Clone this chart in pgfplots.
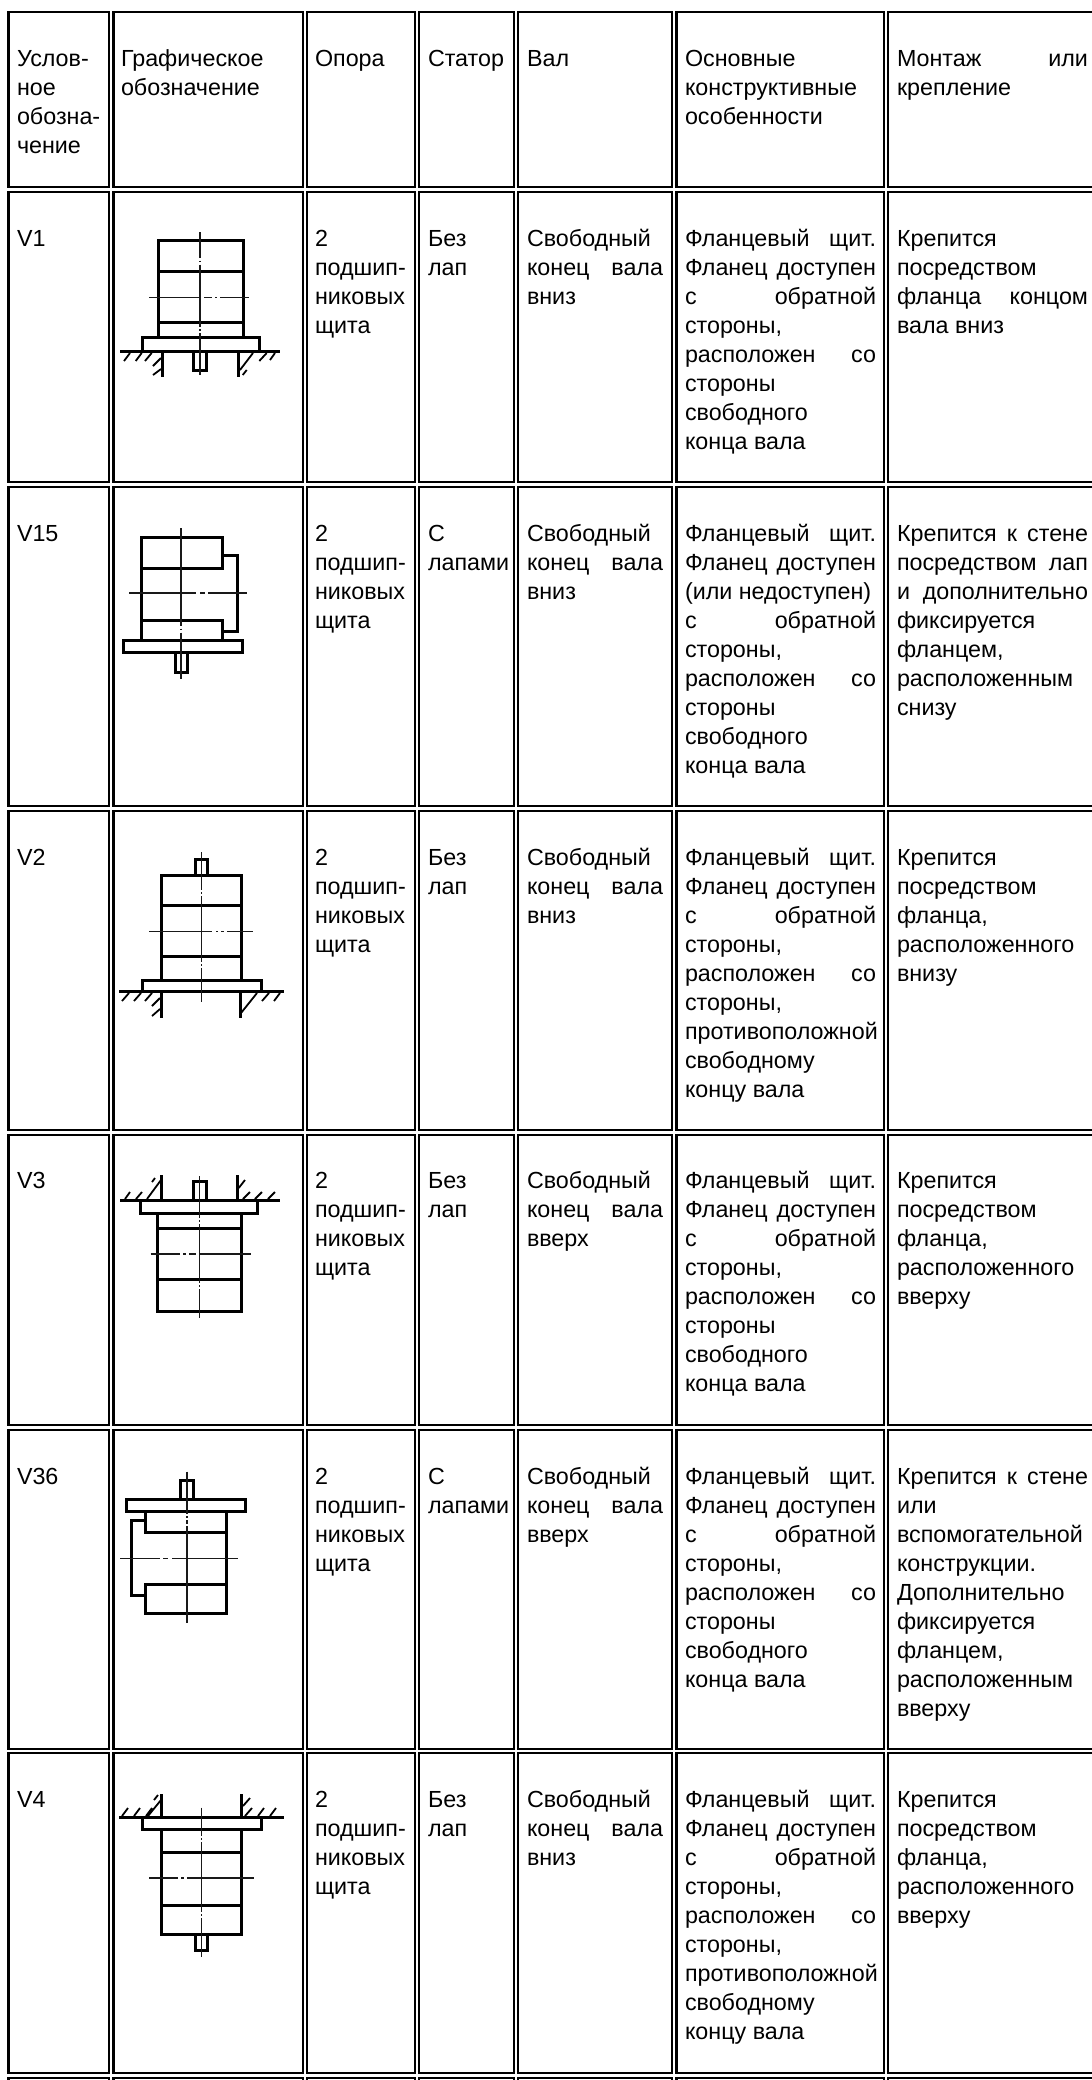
\documentclass[border=0pt]{standalone}
\usepackage{pgfplots}
\pgfplotsset{compat=1.18}
\usepackage{fontspec}
\setmainfont{Liberation Sans}
% one table row: the seven cells between the heights #1 and #2
\newcommand\rowcells[2]{\addplot[Grid] coordinates {
 (8.5,#1)(109,#1)(109,#2)(8.5,#2)(8.5,#1) (nan,nan)
 (113.5,#1)(303,#1)(303,#2)(113.5,#2)(113.5,#1) (nan,nan)
 (307,#1)(415,#1)(415,#2)(307,#2)(307,#1) (nan,nan)
 (419,#1)(514,#1)(514,#2)(419,#2)(419,#1) (nan,nan)
 (518,#1)(672,#1)(672,#2)(518,#2)(518,#1) (nan,nan)
 (676.5,#1)(884,#1)(884,#2)(676.5,#2)(676.5,#1) (nan,nan)
 (888,#1)(1110,#1)(1110,#2)(888,#2)(888,#1)};}
\newcommand\T[4]{\node[anchor=base west,inner sep=0pt,outer sep=0pt] at (axis cs:#1,{#2+29*#3}) {\strut #4};}
\newcommand\JE[2]{\makebox[136pt][s]{#1\hfill #2}}
\newcommand\JF[2]{\makebox[191pt][s]{#1\hfill #2}}
\newcommand\ColThree[1]{\T{315}{#1}{0}{2}\T{315}{#1}{1}{подшип-}\T{315}{#1}{2}{никовых}\T{315}{#1}{3}{щита}}
\newcommand\NoFeet[1]{\T{428}{#1}{0}{Без}\T{428}{#1}{1}{лап}}
\newcommand\Feet[1]{\T{428}{#1}{0}{С}\T{428}{#1}{1}{лапами}}
\newcommand\Shaft[2]{\T{527}{#1}{0}{Свободный}\T{527}{#1}{1}{\JE{конец}{вала}}\T{527}{#1}{2}{#2}}
\newcommand\Near[1]{\T{685}{#1}{0}{\JF{Фланцевый}{щит.}}\T{685}{#1}{1}{\JF{Фланец}{доступен}}\T{685}{#1}{2}{\JF{с}{обратной}}\T{685}{#1}{3}{стороны,}\T{685}{#1}{4}{\JF{расположен}{со}}\T{685}{#1}{5}{стороны}\T{685}{#1}{6}{свободного}\T{685}{#1}{7}{конца вала}}
\newcommand\Far[1]{\T{685}{#1}{0}{\JF{Фланцевый}{щит.}}\T{685}{#1}{1}{\JF{Фланец}{доступен}}\T{685}{#1}{2}{\JF{с}{обратной}}\T{685}{#1}{3}{стороны,}\T{685}{#1}{4}{\JF{расположен}{со}}\T{685}{#1}{5}{стороны,}\T{685}{#1}{6}{противоположной}\T{685}{#1}{7}{свободному}\T{685}{#1}{8}{концу вала}}
\newcommand\Mount[2]{\T{897}{#1}{0}{Крепится}\T{897}{#1}{1}{посредством}\T{897}{#1}{2}{фланца,}\T{897}{#1}{3}{расположенного}\T{897}{#1}{4}{#2}}
\begin{document}
\fontsize{23.3}{29}\selectfont
\begin{tikzpicture}
\pgfplotsset{
 Grid/.style={black,line width=2.3pt,line cap=rect,no markers},
 Thick/.style={black,line width=3pt,line cap=rect,no markers},
 Thin/.style={black!90,line width=1.4pt,no markers},
 Hatch/.style={black,line width=1.8pt,no markers}}
\begin{axis}[scale only axis,width=1092pt,height=2080pt,xmin=0,xmax=1092,ymin=0,ymax=2080,
 y dir=reverse,hide axis,unbounded coords=jump]
\path (axis cs:0,0) rectangle (axis cs:1092,2080);
\rowcells{12}{187}
\rowcells{192}{482}
\rowcells{487}{806}
\rowcells{811}{1130}
\rowcells{1135}{1425}
\rowcells{1430}{1749}
\rowcells{1753}{2073}
\rowcells{2078}{2100}
% ---------- V1
\addplot[Thick] coordinates {(158.3,337.7)(158.3,240)(243.3,240)(243.3,337.7)(nan,nan)(158.3,271.7)(243.3,271.7)(nan,nan)(158.3,322.7)(243.3,322.7)(nan,nan)
 (142.3,351.7)(142.3,337.7)(259.3,337.7)(259.3,351.7)(nan,nan)(121.7,351.7)(278.3,351.7)(nan,nan)
 (193.7,351.7)(193.7,370)(206.3,370)(206.3,351.7)(nan,nan)(162.3,351.7)(162.3,375)(nan,nan)(238.3,351.7)(238.3,375)};
\addplot[Thin] coordinates {(200,232)(200,258)(nan,nan)(200,260.5)(200,262)(nan,nan)(200,264.5)(200,327)(nan,nan)(200,329)(200,331)(nan,nan)(200,333)(200,375)(nan,nan)
 (149,297.3)(200,297.3)(nan,nan)(204,297.3)(212,297.3)(nan,nan)(215,297.3)(217,297.3)(nan,nan)(220,297.3)(249,297.3)};
\addplot[Hatch] coordinates {(130,353)(124,361)(nan,nan)(141.7,353)(135.7,361)(nan,nan)(151.7,353)(145,361)(nan,nan)(161,358)(153,366)(nan,nan)(161,369)(153,375)(nan,nan)
 (253,353)(240,370)(nan,nan)(266.7,353)(259.3,361)(nan,nan)(275,353)(270,360)(nan,nan)(246.7,370)(242.7,375)};
% ---------- V15
\addplot[Thick] coordinates {(222,640)(222,631)(237,631)(237,555)(222,555)(222,537)(141,537)(141,640)(nan,nan)(141,568)(222,568)(222,555)(nan,nan)(141,620)(222,620)(222,631)(nan,nan)
 (123,640)(242,640)(242,652)(123,652)(123,640)(nan,nan)(175,652)(175,672)(187,672)(187,652)};
\addplot[Thin] coordinates {(181,528)(181,626)(nan,nan)(181,628.5)(181,630)(nan,nan)(181,632.5)(181,679)(nan,nan)
 (129,593)(196,593)(nan,nan)(200,593)(205,593)(nan,nan)(208,593)(247,593)};
% ---------- V2
\addplot[Thick] coordinates {(161.7,980.7)(161.7,875)(241.3,875)(241.3,980.7)(nan,nan)(161.7,905)(241.3,905)(nan,nan)(161.7,956.7)(241.3,956.7)(nan,nan)
 (142.3,991.7)(142.3,980.7)(261,980.7)(261,991.7)(nan,nan)(120,991.7)(282,991.7)(nan,nan)
 (195.3,875)(195.3,859.3)(207.7,859.3)(207.7,875)(nan,nan)(161,991.7)(161,1016)(nan,nan)(240.3,991.7)(240.3,1016)};
\addplot[Thin] coordinates {(201.3,852)(201.3,890)(nan,nan)(201.3,892)(201.3,894)(nan,nan)(201.3,896)(201.3,962)(nan,nan)(201.3,964)(201.3,966)(nan,nan)(201.3,968)(201.3,1002)(nan,nan)
 (149,931.3)(212,931.3)(nan,nan)(216,931.3)(218,931.3)(nan,nan)(221,931.3)(224,931.3)(nan,nan)(227,931.3)(253,931.3)};
\addplot[Hatch] coordinates {(129,993)(122,1001)(nan,nan)(141,993)(134,1001)(nan,nan)(152,993)(145,1001)(nan,nan)(160,998)(152,1006)(nan,nan)(160,1009)(152,1016)(nan,nan)
 (257,993)(241,1013)(nan,nan)(269,993)(262,1001)(nan,nan)(280,993)(274,1001)};
% ---------- V3
\addplot[Thick] coordinates {(157.3,1213.3)(157.3,1311)(241.3,1311)(241.3,1213.3)(nan,nan)(157.3,1228.3)(241.3,1228.3)(nan,nan)(157.3,1279)(241.3,1279)(nan,nan)
 (140.7,1200)(140.7,1213.3)(257.7,1213.3)(257.7,1200)(nan,nan)(121.7,1200)(278,1200)(nan,nan)
 (193.7,1200)(193.7,1181.7)(206.3,1181.7)(206.3,1200)(nan,nan)(161.7,1200)(161.7,1176.7)(nan,nan)(237.7,1200)(237.7,1176.7)};
\addplot[Thin] coordinates {(199.7,1176)(199.7,1218)(nan,nan)(199.7,1220)(199.7,1222)(nan,nan)(199.7,1224)(199.7,1283)(nan,nan)(199.7,1285)(199.7,1287)(nan,nan)(199.7,1289)(199.7,1318)(nan,nan)
 (150.7,1254)(180,1254)(nan,nan)(183,1254)(186,1254)(nan,nan)(189,1254)(196,1254)(nan,nan)(200,1254)(250.7,1254)};
\addplot[Hatch] coordinates {(130,1192)(125,1199)(nan,nan)(142,1192)(136,1199)(nan,nan)(161,1180)(147,1199)(nan,nan)(155,1178)(152,1182)(nan,nan)
 (245,1180)(238.7,1188)(nan,nan)(250,1192)(243,1199)(nan,nan)(262,1192)(255,1199)(nan,nan)(275,1192)(268,1199)};
% ---------- V36
\addplot[Thick] coordinates {(145.7,1511.7)(145.7,1532.3)(226.7,1532.3)(nan,nan)(226.7,1511.7)(226.7,1613.3)(145.7,1613.3)(145.7,1584)(226.7,1584)(nan,nan)
 (145.7,1520)(131,1520)(131,1595.7)(145.7,1595.7)(nan,nan)
 (126,1499.3)(245.3,1499.3)(245.3,1511.7)(126,1511.7)(126,1499.3)(nan,nan)(180.7,1499.3)(180.7,1480.7)(193.3,1480.7)(193.3,1499.3)};
\addplot[Thin] coordinates {(187,1471.7)(187,1514)(nan,nan)(187,1516)(187,1518)(nan,nan)(187,1520)(187,1524)(nan,nan)(187,1526)(187,1623.3)(nan,nan)
 (120,1558.3)(160,1558.3)(nan,nan)(163,1558.3)(168,1558.3)(nan,nan)(172,1558.3)(238.3,1558.3)};
% ---------- V4
\addplot[Thick] coordinates {(161.7,1829.3)(161.7,1934)(241.3,1934)(241.3,1829.3)(nan,nan)(161.7,1852.3)(241.3,1852.3)(nan,nan)(161.7,1905)(241.3,1905)(nan,nan)
 (142.3,1817.3)(142.3,1829.3)(261,1829.3)(261,1817.3)(nan,nan)(120.7,1817.3)(282.3,1817.3)(nan,nan)
 (195.3,1934)(195.3,1950)(207.7,1950)(207.7,1934)(nan,nan)(161.7,1817.3)(161.7,1795)(nan,nan)(241.7,1817.3)(241.7,1795)};
\addplot[Thin] coordinates {(201.3,1807.7)(201.3,1836)(nan,nan)(201.3,1838)(201.3,1840)(nan,nan)(201.3,1842)(201.3,1912)(nan,nan)(201.3,1914)(201.3,1916)(nan,nan)(201.3,1918)(201.3,1957.3)(nan,nan)
 (149.3,1878)(178,1878)(nan,nan)(181,1878)(184,1878)(nan,nan)(187,1878)(254,1878)};
\addplot[Hatch] coordinates {(128,1808)(122,1816)(nan,nan)(140,1808)(134,1816)(nan,nan)(152,1808)(146,1816)(nan,nan)(161,1800)(148,1816)(nan,nan)(158,1795)(154,1800)(nan,nan)
 (250,1798)(243,1806)(nan,nan)(252,1808)(245,1816)(nan,nan)(264,1808)(258,1816)(nan,nan)(276,1808)(270,1816)};
% ---------- header
\T{17}{66}{0}{Услов-}\T{17}{66}{1}{ное}\T{17}{66}{2}{обозна-}\T{17}{66}{3}{чение}
\T{121}{66}{0}{Графическое}\T{121}{66}{1}{обозначение}
\T{315}{66}{0}{Опора}\T{428}{66}{0}{Статор}\T{527}{66}{0}{Вал}
\T{685}{66}{0}{Основные}\T{685}{66}{1}{конструктивные}\T{685}{66}{2}{особенности}
\T{897}{66}{0}{\JF{Монтаж}{или}}\T{897}{66}{1}{крепление}
% ---------- V1
\T{17}{246}{0}{V1}\ColThree{246}\NoFeet{246}\Shaft{246}{вниз}\Near{246}
\T{897}{246}{0}{Крепится}\T{897}{246}{1}{посредством}\T{897}{246}{2}{\JF{фланца}{концом}}\T{897}{246}{3}{вала вниз}
% ---------- V15
\T{17}{541}{0}{V15}\ColThree{541}\Feet{541}\Shaft{541}{вниз}
\T{685}{541}{0}{\JF{Фланцевый}{щит.}}\T{685}{541}{1}{\JF{Фланец}{доступен}}\T{685}{541}{2}{(или недоступен)}\T{685}{541}{3}{\JF{с}{обратной}}\T{685}{541}{4}{стороны,}\T{685}{541}{5}{\JF{расположен}{со}}\T{685}{541}{6}{стороны}\T{685}{541}{7}{свободного}\T{685}{541}{8}{конца вала}
\T{897}{541}{0}{\makebox[191pt][s]{Крепится\hfill к\hfill стене}}\T{897}{541}{1}{\JF{посредством}{лап}}\T{897}{541}{2}{\JF{и}{дополнительно}}\T{897}{541}{3}{фиксируется}\T{897}{541}{4}{фланцем,}\T{897}{541}{5}{расположенным}\T{897}{541}{6}{снизу}
% ---------- V2
\T{17}{865}{0}{V2}\ColThree{865}\NoFeet{865}\Shaft{865}{вниз}\Far{865}\Mount{865}{внизу}
% ---------- V3
\T{17}{1188}{0}{V3}\ColThree{1188}\NoFeet{1188}\Shaft{1188}{вверх}\Near{1188}\Mount{1188}{вверху}
% ---------- V36
\T{17}{1484}{0}{V36}\ColThree{1484}\Feet{1484}\Shaft{1484}{вверх}\Near{1484}
\T{897}{1484}{0}{\makebox[191pt][s]{Крепится\hfill к\hfill стене}}\T{897}{1484}{1}{или}\T{897}{1484}{2}{вспомогательной}\T{897}{1484}{3}{конструкции.}\T{897}{1484}{4}{Дополнительно}\T{897}{1484}{5}{фиксируется}\T{897}{1484}{6}{фланцем,}\T{897}{1484}{7}{расположенным}\T{897}{1484}{8}{вверху}
% ---------- V4
\T{17}{1807}{0}{V4}\ColThree{1807}\NoFeet{1807}\Shaft{1807}{вниз}\Far{1807}\Mount{1807}{вверху}
\end{axis}
\end{tikzpicture}
\end{document}
